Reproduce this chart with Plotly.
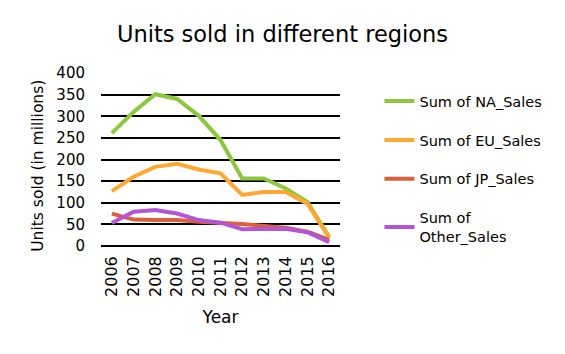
import plotly.graph_objects as go

years = ["2006", "2007", "2008", "2009", "2010", "2011", "2012", "2013", "2014", "2015", "2016"]
na_sales = [261, 310, 351, 340, 301, 245, 156, 156, 133, 102, 21]
eu_sales = [127, 160, 183, 190, 177, 168, 118, 125, 125, 98, 19]
jp_sales = [75, 61, 60, 60, 56, 54, 51, 46, 42, 33, 14]
other_sales = [53, 79, 83, 75, 60, 54, 39, 40, 40, 32, 9]

series = [
    ("Sum of NA_Sales", na_sales, "#8dc63f"),
    ("Sum of EU_Sales", eu_sales, "#ffa733"),
    ("Sum of JP_Sales", jp_sales, "#d9603b"),
    ("Sum of<br>Other_Sales", other_sales, "#b455d6"),
]

font = "DejaVu Sans"
fig = go.Figure()
for name, vals, col in series:
    fig.add_trace(go.Scatter(x=years, y=vals, name=name, mode="lines", legendgroup=name,
                             line=dict(color=col, width=4)))

fig.update_layout(
    width=565, height=354,
    margin=dict(l=101, r=225, t=73, b=108),
    paper_bgcolor="white", plot_bgcolor="white",
    font=dict(family=font, color="black"),
    title=dict(text="Units sold in different regions", x=0.5, xanchor="center",
               y=0.905, yanchor="middle", font=dict(size=22.5, family=font)),
    showlegend=True,
    legend=dict(x=1.165, y=0.93, xanchor="left", yanchor="top",
                font=dict(size=14.5, family=font), tracegroupgap=17,
                bgcolor="rgba(0,0,0,0)"),
    xaxis=dict(type="category", range=[-0.5, 10.5], showgrid=False,
               tickangle=-90, tickfont=dict(size=16, family=font),
               showline=False, ticks="", ticklabelstandoff=6,
               title=dict(text="Year", font=dict(size=17, family=font), standoff=15)),
    yaxis=dict(range=[0, 400], dtick=50, showgrid=True, gridcolor="black",
               gridwidth=2, zeroline=True, zerolinecolor="black", zerolinewidth=2,
               tickfont=dict(size=15, family=font), ticks="", ticklabelstandoff=15),
    annotations=[dict(text="Units sold (in millions)", textangle=-90,
                      xref="paper", yref="paper", x=(38 - 101) / 238, y=(246 - 166) / 173,
                      xanchor="center", yanchor="middle", showarrow=False,
                      font=dict(size=15.5, family=font))],
)

fig.write_html("out.html")
